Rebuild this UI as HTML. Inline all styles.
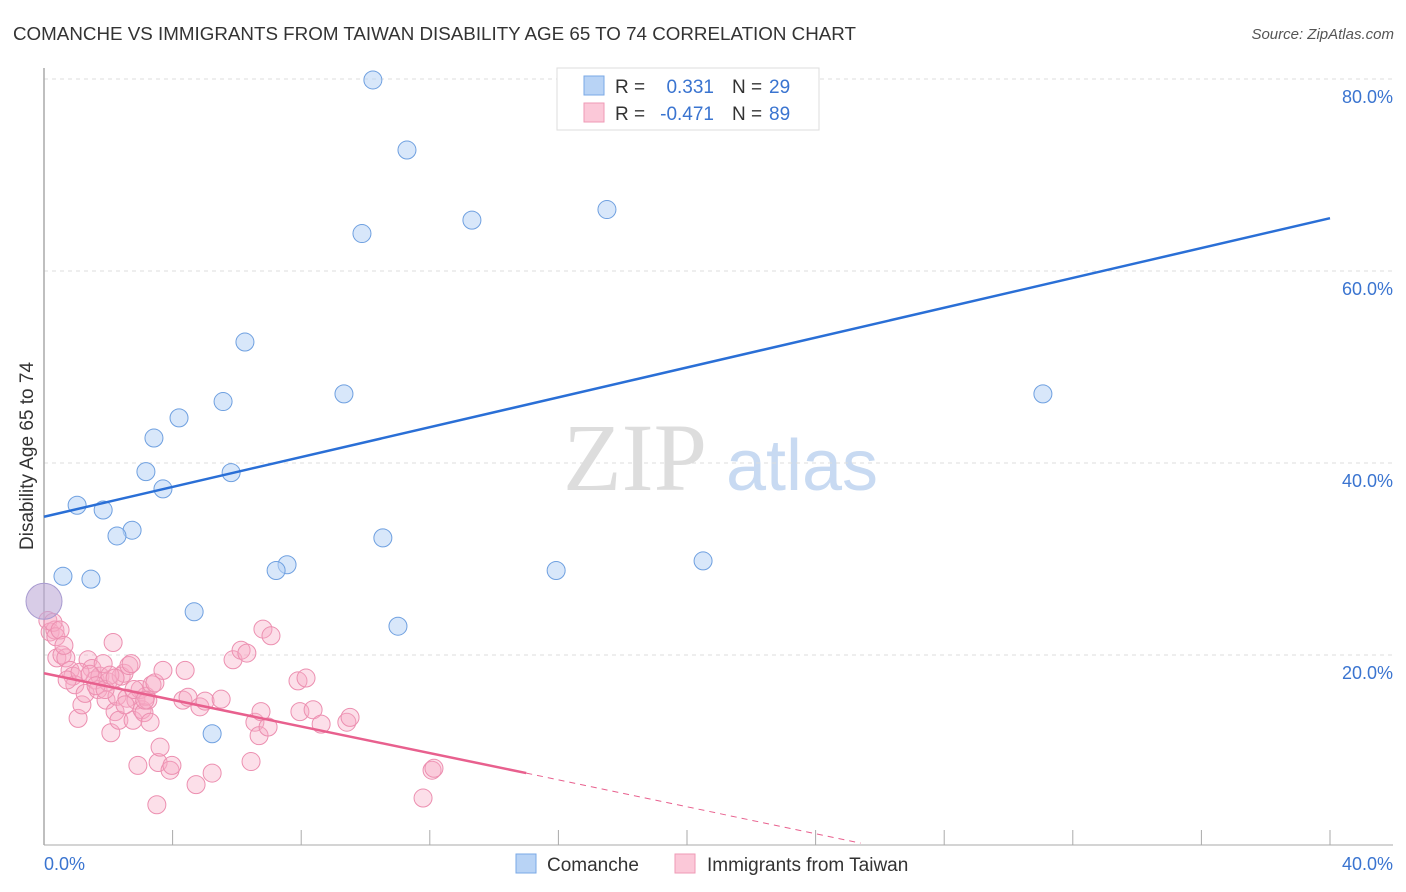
<!DOCTYPE html>
<html><head><meta charset="utf-8"><style>
body{margin:0;background:#fff;font-family:"Liberation Sans",sans-serif;}
svg{display:block}
</style></head><body>
<svg id="chart" width="1406" height="892" xmlns="http://www.w3.org/2000/svg">
<text x="13" y="40" font-size="18" fill="#333" textLength="843" lengthAdjust="spacingAndGlyphs">COMANCHE VS IMMIGRANTS FROM TAIWAN DISABILITY AGE 65 TO 74 CORRELATION CHART</text>
<text x="1394" y="39" font-size="15" fill="#555" text-anchor="end" font-style="italic">Source: ZipAtlas.com</text>
<text transform="translate(33,456) rotate(-90)" font-size="19" fill="#333" text-anchor="middle">Disability Age 65 to 74</text>
<g>
<text x="635" y="490" font-size="96" fill="#ddd" text-anchor="middle" font-family="Liberation Serif, serif">ZIP</text>
<text x="802" y="490" font-size="72" fill="#c8daf2" text-anchor="middle">atlas</text>
</g>
<g id="grid"></g>
<g id="axes"></g>
<g id="points"></g>
<g id="lines"></g>
<g>
<rect x="557" y="68" width="262" height="62" fill="#fff" stroke="#ddd"/>
<rect x="584" y="76" width="20" height="19" fill="#b8d3f5" stroke="#7aa8e6"/>
<rect x="584" y="103" width="20" height="19" fill="#fbc8d8" stroke="#ef9ab6"/>
<text x="615" y="93" font-size="19" fill="#333">R =</text>
<text x="714" y="93" font-size="19" fill="#3a74d0" text-anchor="end">0.331</text>
<text x="732" y="93" font-size="19" fill="#333">N =</text>
<text x="769" y="93" font-size="19" fill="#3a74d0">29</text>
<text x="615" y="120" font-size="19" fill="#333">R =</text>
<text x="714" y="120" font-size="19" fill="#3a74d0" text-anchor="end">-0.471</text>
<text x="732" y="120" font-size="19" fill="#333">N =</text>
<text x="769" y="120" font-size="19" fill="#3a74d0">89</text>
</g>
<g>
<rect x="516" y="854" width="20" height="19" fill="#b8d3f5" stroke="#7aa8e6"/>
<text x="547" y="871" font-size="19" fill="#333">Comanche</text>
<rect x="675" y="854" width="20" height="19" fill="#fbc8d8" stroke="#ef9ab6"/>
<text x="707" y="871" font-size="19" fill="#333">Immigrants from Taiwan</text>
</g>
</svg>
<script>
const yTicks=[20,40,60,80];
const yTickLabels=["20.0%","40.0%","60.0%","80.0%"];
const xTicks=[0,4,8,12,16,20,24,28,32,36,40];
const xTickLabels=["0.0%","40.0%"];
const comancheX=[10.23,11.29,13.31,17.51,9.89,6.25,9.33,31.07,5.57,4.2,3.42,3.17,5.82,3.7,1.03,1.84,2.74,2.27,10.54,7.56,7.22,15.93,20.5,0.59,1.46,4.67,11.01,5.23,0];
const comancheY=[79.9,72.6,65.3,66.4,63.9,52.6,47.2,47.2,46.4,44.7,42.6,39.1,39.0,37.3,35.6,35.1,33.0,32.4,32.2,29.4,28.8,28.8,29.8,28.2,27.9,24.5,23.0,11.8,25.6];
const taiwanX=[0.12,0.19,0.34,0.28,0.37,0.40,0.56,0.68,0.81,0.90,0.96,1.06,1.18,1.28,1.37,1.49,1.59,1.68,1.74,1.84,1.93,1.99,2.08,2.15,2.21,2.27,2.33,2.40,2.49,2.58,2.64,2.71,2.77,2.86,2.92,2.99,3.05,3.11,3.17,3.23,3.30,3.36,3.45,3.51,3.55,3.61,3.70,3.92,3.98,4.32,4.39,4.48,4.73,4.85,5.01,5.23,5.51,5.88,6.13,6.31,6.44,6.56,6.69,6.75,6.81,6.97,7.06,7.90,7.96,8.15,8.37,8.62,9.42,9.52,11.79,12.07,12.13,0.50,0.62,0.72,1.12,1.43,1.62,1.90,2.05,2.21,2.52,2.80,3.14];
const taiwanY=[23.6,22.4,22.6,23.4,21.9,19.7,20.0,19.7,18.4,17.8,16.9,13.4,14.8,16.0,19.5,18.6,17.4,16.4,17.8,19.1,15.3,17.2,11.9,21.3,14.1,15.7,13.2,17.8,18.1,15.5,18.9,19.1,13.2,15.3,8.5,16.4,14.3,14.0,15.7,15.3,13.0,16.9,17.1,4.4,8.8,10.4,18.4,8.0,8.5,15.3,18.4,15.6,6.5,14.6,15.2,7.7,15.4,19.5,20.5,20.2,8.9,13.0,11.6,14.1,22.7,12.5,22.0,17.3,14.1,17.6,14.3,12.8,13.0,13.5,5.1,8.0,8.2,22.6,21.0,17.4,18.2,18.0,16.8,16.4,17.9,17.6,14.8,16.4,15.3];
const blueTrendX=[0,40];
const blueTrendY=[34.4,65.5];
const pinkTrendX=[0,15.0];
const pinkTrendY=[18.1,7.7];
const pinkDashX=[15.0,25.4];
const pinkDashY=[7.7,0.4];

const NS="http://www.w3.org/2000/svg";
const X=v=>44+v*32.15;
const Y=v=>847-v*9.6;
function mk(tag,attrs,parent){const e=document.createElementNS(NS,tag);for(const k in attrs)e.setAttribute(k,attrs[k]);parent.appendChild(e);return e;}
const grid=document.getElementById('grid'),axes=document.getElementById('axes'),pts=document.getElementById('points'),lines=document.getElementById('lines');
mk('line',{x1:44,y1:Y(80),x2:1393,y2:Y(80),stroke:'#ddd','stroke-dasharray':'4,4'},grid);
yTicks.forEach((t,i)=>{
  const g=mk('line',{x1:44,y1:Y(t),x2:1393,y2:Y(t),stroke:'#ddd','stroke-dasharray':'4,4'},grid);
  
  
  const tx=mk('text',{x:1393,y:Y(t)+24,'font-size':18,fill:'#3a74d0','text-anchor':'end'},axes);
  tx.textContent=yTickLabels[i];
  
  
});
const ya=mk('line',{x1:44,y1:68,x2:44,y2:845,stroke:'#aaa','stroke-width':1.5},axes);


const xa=mk('line',{x1:44,y1:845,x2:1393,y2:845,stroke:'#aaa','stroke-width':1},axes);


xTicks.forEach(t=>{
  const tk=mk('line',{x1:X(t),y1:830,x2:X(t),y2:845,stroke:'#aaa'},axes);
  
  
});
const xl0=mk('text',{x:44,y:870,'font-size':18,fill:'#3a74d0'},axes);xl0.textContent=xTickLabels[0];


const xl1=mk('text',{x:1393,y:870,'font-size':18,fill:'#3a74d0','text-anchor':'end'},axes);xl1.textContent=xTickLabels[1];



taiwanX.forEach((v,i)=>{
  const c=mk('circle',{cx:X(v),cy:Y(taiwanY[i]),r:9,fill:'rgba(246,170,196,0.38)',stroke:'#ec8fb0','stroke-width':1},pts);
  
  
});
comancheX.forEach((v,i)=>{
  const big=i===comancheX.length-1;
  const c=mk('circle',{cx:X(v),cy:Y(comancheY[i]),r:big?18:9,fill:big?'rgba(190,170,215,0.6)':'rgba(184,211,245,0.55)',stroke:big?'#a89bd0':'#6fa0e0','stroke-width':1},pts);
  
  
});
const bl=mk('line',{x1:X(blueTrendX[0]),y1:Y(blueTrendY[0]),x2:X(blueTrendX[1]),y2:Y(blueTrendY[1]),stroke:'#2a6fd6','stroke-width':2.5},lines);


const pl=mk('line',{x1:X(pinkTrendX[0]),y1:Y(pinkTrendY[0]),x2:X(pinkTrendX[1]),y2:Y(pinkTrendY[1]),stroke:'#e8608e','stroke-width':2.5},lines);


const pd=mk('line',{x1:X(pinkDashX[0]),y1:Y(pinkDashY[0]),x2:X(pinkDashX[1]),y2:Y(pinkDashY[1]),stroke:'#e8608e','stroke-width':1,'stroke-dasharray':'6,5'},lines);


</script>
</body></html>
